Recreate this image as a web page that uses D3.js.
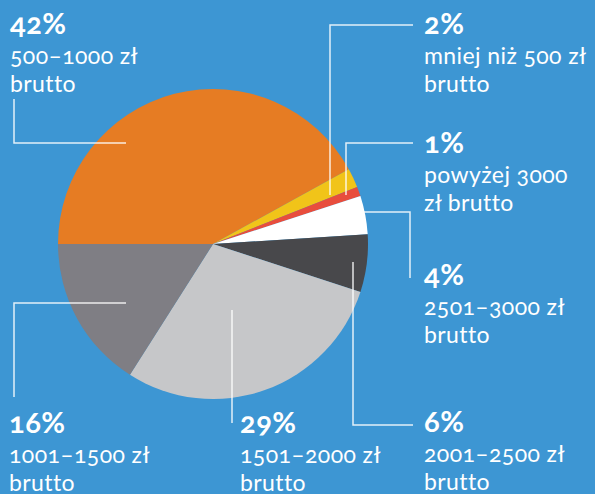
<!DOCTYPE html>
<html>
<head>
<meta charset="utf-8">
<script src="https://cdn.jsdelivr.net/npm/d3@7"></script>
<style>
  html, body { margin: 0; padding: 0; background: #3d96d3; }
  svg { display: block; }
  text { font-family: Lato, "Open Sans", sans-serif; fill: #fff; font-variant-numeric: oldstyle-nums; }
  .pct { font-weight: 700; font-size: 29px; letter-spacing: 0.5px; }
  .desc { font-size: 23px; letter-spacing: 0.4px; }
</style>
</head>
<body>
<svg id="chart" width="595" height="494"></svg>
<script>
(function() {

    // data, clockwise from 9 o'clock
    var categories = ["500–1000 zł brutto", "mniej niż 500 zł brutto", "powyżej 3000 zł brutto",
        "2501–3000 zł brutto", "2001–2500 zł brutto", "1501–2000 zł brutto", "1001–1500 zł brutto"];
    var values = [42, 2, 1, 4, 6, 29, 16];
    var labelLines = [["500–1000 zł", "brutto"], ["mniej niż 500 zł", "brutto"], ["powyżej 3000", "zł brutto"],
        ["2501–3000 zł", "brutto"], ["2001–2500 zł", "brutto"], ["1501–2000 zł", "brutto"], ["1001–1500 zł", "brutto"]];

    var colors = ["#e67c23", "#f1c419", "#e84d3d", "#ffffff", "#48484b", "#c6c7c9", "#7f7e84"];

    // label placement (text position + leader polyline), same order as the data
    var layout = [
        { x: 10, y: 34, line: [[126, 143], [14, 143], [14, 99]] },
        { x: 424, y: 34, line: [[330, 195], [330, 25], [413, 25]] },
        { x: 424, y: 153, line: [[346, 195], [346, 143], [413, 143]] },
        { x: 424, y: 285, line: [[363, 212], [410, 212], [410, 278]] },
        { x: 424, y: 432, line: [[353, 262], [353, 425], [413, 425]] },
        { x: 240, y: 433, line: [[232, 310], [232, 423]] },
        { x: 9, y: 433, line: [[126, 303], [14, 303], [14, 397]] }
    ];

    var svg = d3.select("#chart"),
        cx = 213,
        cy = 244,
        r = 155;

    var pie = d3.pie()
        .sort(null)
        .startAngle(-Math.PI / 2)
        .endAngle(Math.PI * 1.5);

    var arc = d3.arc().innerRadius(0).outerRadius(r);

    var color = d3.scaleOrdinal().domain(categories).range(colors);

    var g = svg.append("g").attr("transform", "translate(" + cx + "," + cy + ")");

    g.selectAll("path")
        .data(pie(values))
        .enter().append("path")
        .attr("d", arc)
        .attr("fill", function(d, i) { return color(categories[i]); });

    var line = d3.line();

    svg.selectAll("path.leader")
        .data(layout)
        .enter().append("path")
        .attr("class", "leader")
        .attr("d", function(d) { return line(d.line); })
        .attr("fill", "none")
        .attr("stroke", "#fff")
        .attr("stroke-opacity", 0.85)
        .attr("stroke-width", 1.5);

    var labels = svg.selectAll("g.label")
        .data(values)
        .enter().append("g")
        .attr("class", "label")
        .attr("transform", function(d, i) { return "translate(" + layout[i].x + "," + layout[i].y + ")"; });

    labels.append("text")
        .attr("class", "pct")
        .text(function(d) { return d + "%"; });

    labels.each(function(d, i) {
        var t = d3.select(this);
        labelLines[i].forEach(function(s, k) {
            t.append("text")
                .attr("class", "desc")
                .attr("y", 30 + k * 28)
                .text(s);
        });
    });
})();
</script>
</body>
</html>
